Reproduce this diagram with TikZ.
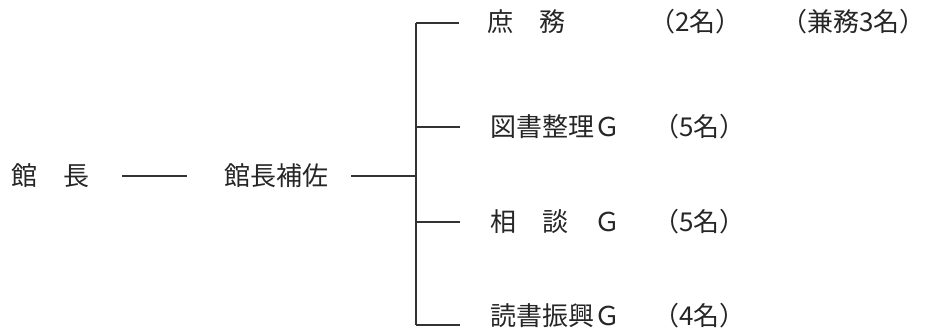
\documentclass[tikz,border=0pt]{standalone}
\usepackage{fontspec}
\newfontfamily\jp{Noto Sans CJK JP}
\begin{document}
\begin{tikzpicture}[x=1pt,y=-1pt,
  lbl/.style={anchor=west,inner sep=0pt,font=\jp\fontsize{26}{26}\selectfont,text=black!85},
  ln/.style={line width=1.4pt,black!80}]
\useasboundingbox[fill=white] (0,0) rectangle (929,330);
\node[lbl] (kancho) at (11,176) {館　長};
\node[lbl] (hosa) at (224,176) {館長補佐};
\coordinate (bus) at (416,176);
\coordinate (top) at (416,23);
\coordinate (bot) at (416,325);
\node[lbl] (shomu) at (487,22) {庶　務};
\node[lbl] (shomuN) at (649,22) {（2名）};
\node[lbl] (kenmu) at (781,22) {（兼務3名）};
\node[lbl] (zusho) at (490,127) {図書整理Ｇ};
\node[lbl] (zushoN) at (653,127) {（5名）};
\node[lbl] (sodan) at (490,222) {相　談　Ｇ};
\node[lbl] (sodanN) at (653,222) {（5名）};
\node[lbl] (doku) at (490,316) {読書振興Ｇ};
\node[lbl] (dokuN) at (653,316) {（4名）};
\draw[ln,shorten <=33pt,shorten >=37pt] (kancho) -- (hosa);
\draw[ln,shorten <=23pt] (hosa.east) -- (bus);
\draw[ln] (top) -- (bot);
\draw[ln,shorten >=28pt] (top) -- (top -| shomu.west);
\draw[ln,shorten >=30pt] (416,127) -- (zusho.west);
\draw[ln,shorten >=30pt] (416,222) -- (sodan.west);
\draw[ln,shorten >=30pt] (bot) -- (bot -| doku.west);
\end{tikzpicture}
\end{document}
